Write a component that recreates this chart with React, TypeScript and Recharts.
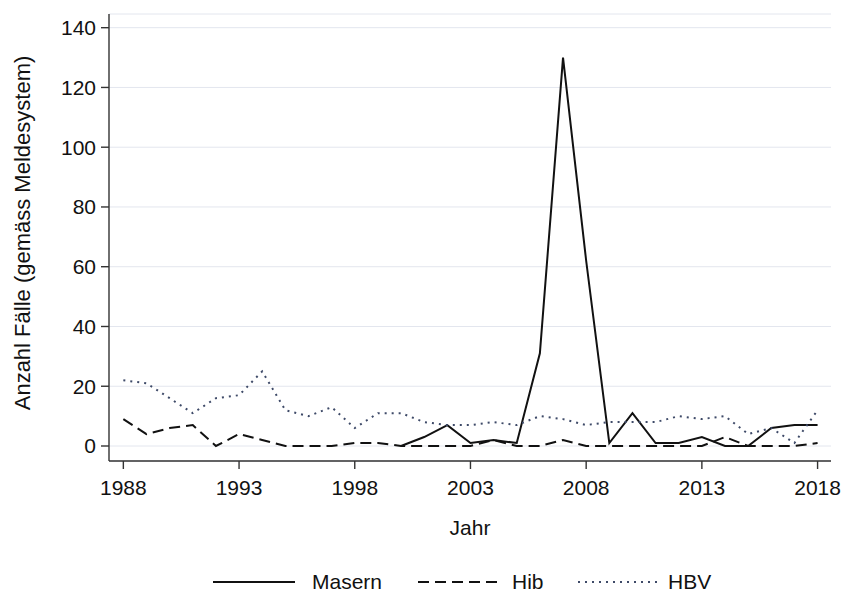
import React from 'react';
import { LineChart, Line, XAxis, YAxis, CartesianGrid } from 'recharts';

const years = [1988, 1989, 1990, 1991, 1992, 1993, 1994, 1995, 1996, 1997, 1998, 1999, 2000, 2001, 2002, 2003, 2004, 2005, 2006, 2007, 2008, 2009, 2010, 2011, 2012, 2013, 2014, 2015, 2016, 2017, 2018];
const masern: (number | null)[] = [null, null, null, null, null, null, null, null, null, null, null, null, 0, 3, 7, 1, 2, 1, 31, 130, 62, 1, 11, 1, 1, 3, 0, 0, 6, 7, 7];
const hib = [9, 4, 6, 7, 0, 4, 2, 0, 0, 0, 1, 1, 0, 0, 0, 0, 2, 0, 0, 2, 0, 0, 0, 0, 0, 0, 3, 0, 0, 0, 1];
const hbv = [22, 21, 16, 11, 16, 17, 25, 12, 10, 13, 6, 11, 11, 8, 7, 7, 8, 7, 10, 9, 7, 8, 8, 8, 10, 9, 10, 4, 6, 1, 12];

const xTicks = [1988, 1993, 1998, 2003, 2008, 2013, 2018];
const yTicks = [0, 20, 40, 60, 80, 100, 120, 140];

const seriesKeys = ['masern', 'hib', 'hbv'];
const seriesNames = ['Masern', 'Hib', 'HBV'];
const seriesColors = ['#111111', '#111111', '#3e4a68'];
const seriesDash = ['', '11 6', '2 5'];

const data = years.map((y, i) => ({ year: y, masern: masern[i], hib: hib[i], hbv: hbv[i] }));

const FONT = '"Liberation Sans", Arial, Helvetica, sans-serif';
const W = 842;
const H = 592;
const TEXT = '#111111';
const AXIS = '#333333';

const legendLines = [
  { x1: 213, x2: 295, tx: 312 },
  { x1: 418, x2: 502, tx: 512 },
  { x1: 578, x2: 660, tx: 668 },
];

export default function App() {
  return (
    <div style={{ position: 'absolute', left: 0, top: 0, width: W, height: H, background: '#fff' }}>
      <LineChart width={W} height={H} data={data} margin={{ top: 14, right: 11, left: 0, bottom: 0 }}>
        <CartesianGrid vertical={false} stroke="#e3e6ee" strokeWidth={1} fill="none" />
        <XAxis
          dataKey="year"
          type="number"
          domain={[1987.38, 2018.58]}
          allowDataOverflow
          ticks={xTicks}
          interval={0}
          height={131}
          tickSize={8}
          tickMargin={11}
          stroke={AXIS}
          strokeWidth={1.4}
          tick={{ fontSize: 21, fill: TEXT, fontFamily: FONT }}
          label={(p: any) => {
            const vb = p.viewBox || { x: 109, y: 461, width: 722 };
            return (
              <text x={vb.x + vb.width / 2} y={vb.y + 74} textAnchor="middle" fontSize={21} fill={TEXT} fontFamily={FONT}>
                Jahr
              </text>
            );
          }}
        />
        <YAxis
          type="number"
          domain={[-5.02, 144.58]}
          allowDataOverflow
          ticks={yTicks}
          interval={0}
          width={109}
          tickSize={8}
          tickMargin={5}
          stroke={AXIS}
          strokeWidth={1.4}
          tick={{ fontSize: 21, fill: TEXT, fontFamily: FONT }}
          label={(p: any) => {
            const cy = 233;
            return (
              <text x={30} y={cy} transform={`rotate(-90, 30, ${cy})`} textAnchor="middle" fontSize={22} fill={TEXT} fontFamily={FONT}>
                Anzahl Fälle (gemäss Meldesystem)
              </text>
            );
          }}
        />
        {seriesKeys.map((k, i) => (
          <Line
            key={k}
            type="linear"
            dataKey={k}
            name={seriesNames[i]}
            stroke={seriesColors[i]}
            strokeWidth={2}
            strokeDasharray={seriesDash[i] || undefined}
            dot={false}
            activeDot={false}
            isAnimationActive={false}
            connectNulls={false}
          />
        ))}
      </LineChart>
      <svg width={W} height={H} style={{ position: 'absolute', left: 0, top: 0, pointerEvents: 'none' }}>
        {seriesNames.map((n, i) => (
          <g key={n}>
            <line
              x1={legendLines[i].x1}
              x2={legendLines[i].x2}
              y1={582}
              y2={582}
              stroke={seriesColors[i]}
              strokeWidth={2}
              strokeDasharray={seriesDash[i] || undefined}
            />
            <text x={legendLines[i].tx} y={589} fontSize={21} fill={TEXT} fontFamily={FONT}>
              {n}
            </text>
          </g>
        ))}
      </svg>
    </div>
  );
}
